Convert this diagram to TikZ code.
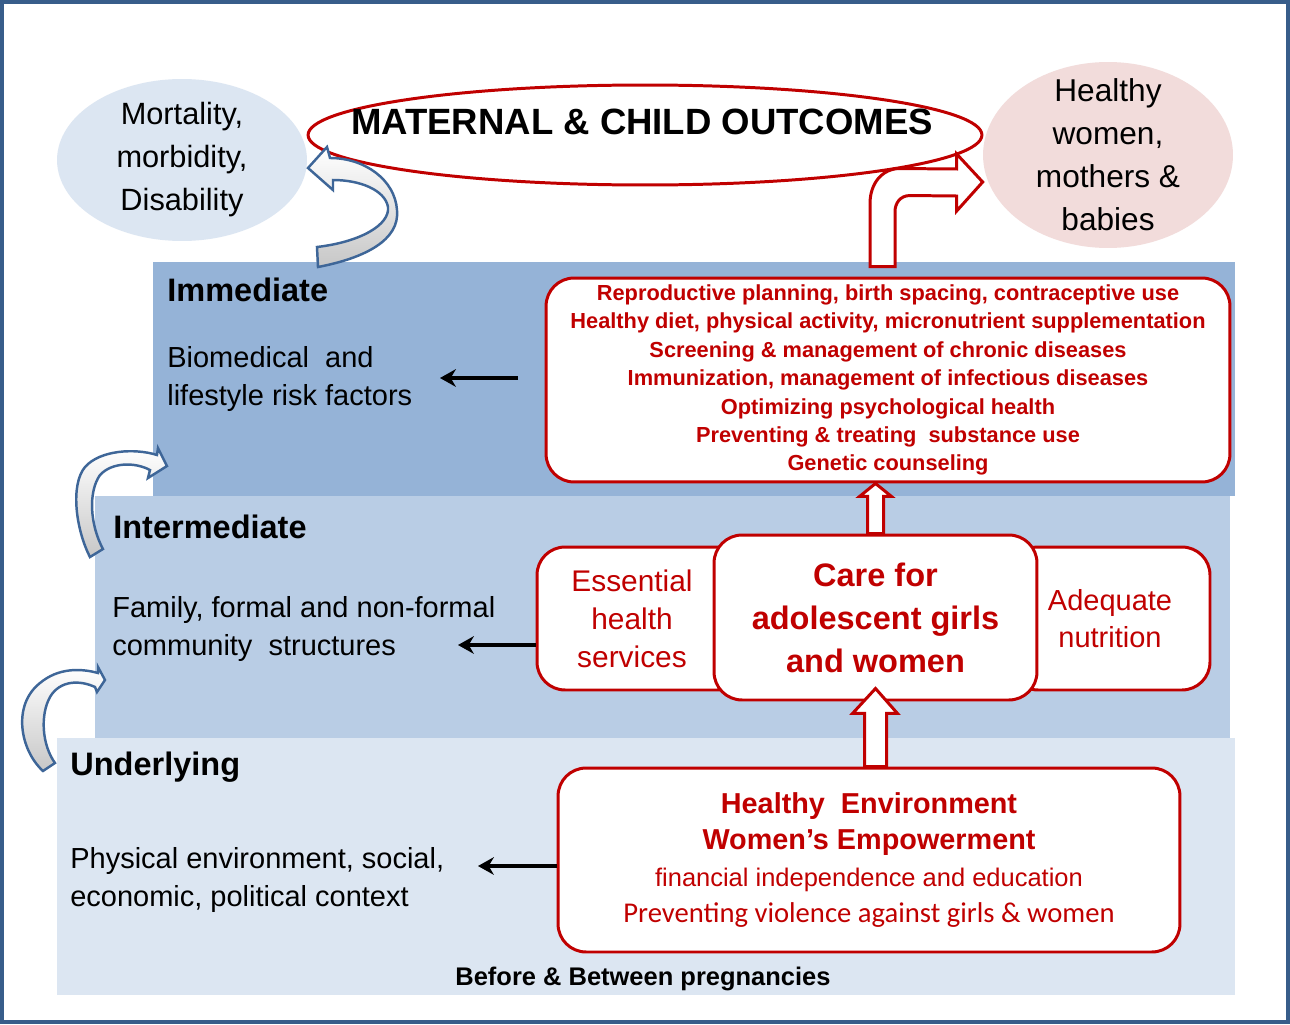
\documentclass[tikz,border=0pt]{standalone}
\usepackage{fontspec}
\setmainfont{Liberation Sans}
\newfontfamily\calibri{Carlito}
\usetikzlibrary{shapes.geometric, arrows.meta, calc}

\definecolor{darkred}{HTML}{C00000}
\definecolor{bandone}{HTML}{95B3D7}
\definecolor{bandtwo}{HTML}{B9CDE5}
\definecolor{bandthree}{HTML}{DCE6F2}
\definecolor{pinkfill}{HTML}{F2DCDB}
\definecolor{frameblue}{HTML}{385D8A}
\definecolor{arrowblue}{HTML}{3E6698}

\tikzset{
	redbox/.style={draw=darkred, line width=1.7pt, fill=white, rounded corners=0.56cm, text=darkred, align=center},
	redarrow/.style={draw=darkred, line width=1.7pt, fill=white, line join=miter},
	grayarrow/.style={draw=arrowblue, line width=1.4pt, top color=white, bottom color=black!22},
	thinarrow/.style={-{Stealth[length=9pt,width=10pt]}, line width=1.8pt},
	levelname/.style={anchor=west, inner sep=0pt, font=\bfseries\fontsize{18.5}{22}\selectfont},
	leveltext/.style={anchor=west, inner sep=0pt, align=left, font=\fontsize{16.5}{21.5}\selectfont}
}

\begin{document}
\begin{tikzpicture}[x=0.02cm, y=-0.02cm]
	\useasboundingbox (0,0) rectangle (1290,1024);
	\fill[white] (0,0) rectangle (1290,1024);
	% levels
	\fill[bandone] (153,262) rectangle (1235,496);
	\fill[bandtwo] (95,496) rectangle (1230,738);
	\fill[bandthree] (57,738) rectangle (1235,995);

	% outcomes
	\node[ellipse, fill=bandthree, minimum width=5cm, minimum height=3.24cm] (mort) at (182,160) {};
	\node[align=center, font=\fontsize{17.5}{24.5}\selectfont] (morttext) at (mort) {Mortality,\\ morbidity,\\ Disability};
	\node[ellipse, draw=darkred, line width=1.7pt, fill=white, minimum width=13.48cm, minimum height=2cm] (outcome) at (645,135) {};
	\node[font=\bfseries\fontsize{20.8}{24}\selectfont] (outtitle) at (642,122) {MATERNAL \& CHILD OUTCOMES};
	\node[ellipse, fill=pinkfill, minimum width=5cm, minimum height=3.72cm] (healthy) at (1108,155) {};
	\node[align=center, font=\fontsize{18}{24.5}\selectfont] (healthytext) at (healthy) {Healthy\\ women,\\ mothers \&\\ babies};

	\node[levelname] (immlbl) at (167,290) {Immediate};
	\node[leveltext] (immtxt) at (167,379) {Biomedical\ \ and\\ lifestyle risk factors};
	\node[levelname] (intlbl) at (113,527) {Intermediate};
	\node[leveltext] (inttxt) at (112,629) {Family,\ formal\ and\ non-formal\\ community\ \ structures};
	\node[levelname] (undlbl) at (70,767) {Underlying};
	\node[leveltext] (undtxt) at (70,880) {Physical environment,\ social,\\ economic, political context};
	\node[font=\bfseries\fontsize{14.5}{17}\selectfont] (phase) at (643,979) {Before \& Between pregnancies};

	% boxes
	\node[redbox, minimum width=13.68cm, minimum height=4.08cm, font=\bfseries\fontsize{12.4}{16.2}\selectfont] (repro) at (888,380)
		{Reproductive planning, birth spacing, contraceptive use\\
		Healthy diet, physical activity, micronutrient supplementation\\
		Screening \& management of chronic diseases\\
		Immunization, management of infectious diseases\\
		Optimizing psychological health\\
		Preventing \& treating\ \ substance use\\
		Genetic counseling};
	\node[redbox, minimum width=4.16cm, minimum height=2.86cm] (essential) at (641,618.5) {};
	\node[text=darkred, align=center, font=\fontsize{17}{21.6}\selectfont] (esstext) at (632,618.5) {Essential\\ health\\ services};
	\node[redbox, minimum width=4cm, minimum height=2.86cm, font=\fontsize{16.5}{21}\selectfont] (adequate) at (1110,618.5) {Adequate\\ nutrition};
	\node[redbox, minimum width=6.46cm, minimum height=3.3cm, font=\bfseries\fontsize{18.5}{24.5}\selectfont] (care) at (875.5,617.5) {Care for\\ adolescent girls\\ and women};
	\node[redbox, minimum width=12.44cm, minimum height=3.68cm, font=\fontsize{14.5}{20.8}\selectfont] (env) at (869,860)
		{{\bfseries\fontsize{16.4}{20.8}\selectfont Healthy\ \ Environment}\\
		{\bfseries\fontsize{16.4}{20.8}\selectfont Women’s Empowerment}\\
		financial independence and education\\
		{\calibri\fontsize{16.3}{20.8}\selectfont Preventing\ violence\ against\ girls\ \&\ women}};

	% thin arrows
	\coordinate (immtail) at (518,378);
	\coordinate (immtip) at (440,378);
	\coordinate (inttip) at (458,645);
	\coordinate (undtip) at (478,866);
	\draw[thinarrow] (immtail) -- (immtip);
	\draw[thinarrow] (essential.west |- inttip) -- (inttip);
	\draw[thinarrow] (env.west |- undtip) -- (undtip);

	% block arrows
	\coordinate (u1) at (care.north |- repro.south);
	\draw[redarrow] ($(care.north)+(-8,0)$) -- ($(u1)+(-8,13)$) -- ($(u1)+(-16,13)$) -- (u1)
		-- ($(u1)+(16,13)$) -- ($(u1)+(8,13)$) -- ($(care.north)+(8,0)$) -- cycle;
	\coordinate (u2) at ($(care.south)+(0,-13)$);
	\coordinate (u2b) at (care.south |- env.north);
	\draw[redarrow] ($(u2b)+(-11,0)$) -- ($(u2)+(-11,25)$) -- ($(u2)+(-23,25)$) -- (u2)
		-- ($(u2)+(22,25)$) -- ($(u2)+(11,25)$) -- ($(u2b)+(11,0)$) -- cycle;
	\coordinate (b0) at ($(repro.north)+(-6,-10)$);
	\coordinate (t) at ($(healthy.west)+(0,27)$);
	\draw[redarrow] ($(b0)+(-12,0)$) -- ($(b0)+(-12,-63)$) .. controls ($(b0)+(-12,-83)$) and ($(b0)+(0,-98)$) .. ($(b0)+(18,-98)$)
		-- ($(t)+(-26,-13)$) -- ($(t)+(-26,-28)$) -- (t) -- ($(t)+(-26,29)$) -- ($(t)+(-26,14)$)
		-- ($(b0)+(28,-71)$) .. controls ($(b0)+(18,-71)$) and ($(b0)+(13,-63)$) .. ($(b0)+(13,-55)$) -- ($(b0)+(13,0)$) -- cycle;

	% curved arrows between levels
	\draw[grayarrow] (318,267) .. controls (365,258) and (400,240) .. (397,210) .. controls (395,180) and (365,158) .. (330,158)
		-- (327,147) -- (308,168) -- (333,190) -- (333,180)
		.. controls (360,180) and (385,190) .. (388,207) .. controls (390,225) and (360,242) .. (317,247) -- cycle;
	\draw[grayarrow] (90,557) .. controls (76,530) and (70,485) .. (85,467) .. controls (100,450) and (135,448) .. (157,455)
		-- (158,448) -- (167,466) -- (148,478) -- (150,470)
		.. controls (135,462) and (112,462) .. (100,475) .. controls (88,492) and (90,525) .. (103,549) -- cycle;
	\draw[grayarrow] (43,771) .. controls (20,750) and (12,705) .. (40,683) .. controls (58,668) and (80,668) .. (98,673)
		-- (98,667) -- (105,680) -- (97,692) -- (95,687)
		.. controls (80,680) and (60,680) .. (50,697) .. controls (40,715) and (42,745) .. (55,763) -- cycle;

	\draw[frameblue, line width=2.3pt] (2,2) rectangle (1288,1022);
\end{tikzpicture}
\end{document}
